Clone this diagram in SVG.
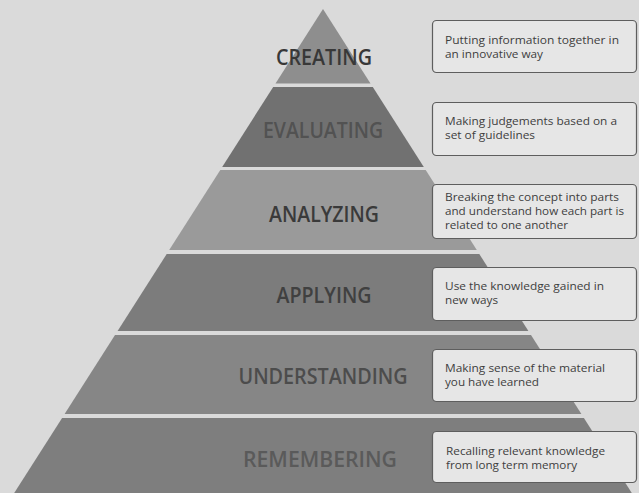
<svg xmlns="http://www.w3.org/2000/svg" width="639" height="493" viewBox="0 0 639 493">
<style>
.lbl{font-family:"Open Sans","Noto Sans",sans-serif;font-weight:600;font-size:21px;text-anchor:middle}
.box{fill:#e6e6e6;stroke:#5e5e5e;stroke-width:1.2}
.desc{font-family:"Open Sans","Noto Sans",sans-serif;font-size:11px;fill:#3e3e3e}
</style>
<rect x="0" y="0" width="639" height="493" fill="#dadada"/>
<g id="creating">
<polygon points="323,9 370.5,83.5 275.5,83.5" fill="#8e8e8e"/>
<text class="lbl" x="324" y="65" fill="#383838" textLength="96" lengthAdjust="spacingAndGlyphs">CREATING</text>
</g>
<g id="evaluating">
<polygon points="273.2,87 372.8,87 423.8,167 222.2,167" fill="#717171"/>
<text class="lbl" x="323" y="138" fill="#525252" textLength="120" lengthAdjust="spacingAndGlyphs">EVALUATING</text>
</g>
<g id="analyzing">
<polygon points="220.3,170 425.7,170 476.8,250 169.2,250" fill="#9a9a9a"/>
<text class="lbl" x="324" y="222" fill="#3a3a3a" textLength="110" lengthAdjust="spacingAndGlyphs">ANALYZING</text>
</g>
<g id="applying">
<polygon points="166.7,254 479.3,254 528.4,331 117.6,331" fill="#7c7c7c"/>
<text class="lbl" x="324" y="303" fill="#404040" textLength="95" lengthAdjust="spacingAndGlyphs">APPLYING</text>
</g>
<g id="understanding">
<polygon points="115,335 531,335 581.4,414 64.6,414" fill="#868686"/>
<text class="lbl" x="323" y="384" fill="#4c4c4c" textLength="169" lengthAdjust="spacingAndGlyphs">UNDERSTANDING</text>
</g>
<g id="remembering">
<polygon points="62.1,418 583.9,418 631.8,493 14.2,493" fill="#7e7e7e"/>
<text class="lbl" x="320" y="467" fill="#5a5a5a" textLength="154" lengthAdjust="spacingAndGlyphs">REMEMBERING</text>
</g>
<g id="connectors"></g>
<g id="desc-creating">
<rect class="box" x="432.5" y="20.5" width="204" height="52" rx="4"/>
<text class="desc" x="445" y="44" textLength="174" lengthAdjust="spacingAndGlyphs">Putting information together in</text>
<text class="desc" x="445" y="58" textLength="98" lengthAdjust="spacingAndGlyphs">an innovative way</text>
</g>
<g id="desc-evaluating">
<rect class="box" x="432.5" y="102.5" width="204" height="53" rx="4"/>
<text class="desc" x="445" y="125" textLength="172" lengthAdjust="spacingAndGlyphs">Making judgements based on a</text>
<text class="desc" x="445" y="139" textLength="90" lengthAdjust="spacingAndGlyphs">set of guidelines</text>
</g>
<g id="desc-analyzing">
<rect class="box" x="432.5" y="184.5" width="204" height="54" rx="4"/>
<text class="desc" x="445" y="201" textLength="174" lengthAdjust="spacingAndGlyphs">Breaking the concept into parts</text>
<text class="desc" x="445" y="215" textLength="179" lengthAdjust="spacingAndGlyphs">and understand how each part is</text>
<text class="desc" x="445" y="229" textLength="123" lengthAdjust="spacingAndGlyphs">related to one another</text>
</g>
<g id="desc-applying">
<rect class="box" x="432.5" y="267.5" width="204" height="53" rx="4"/>
<text class="desc" x="445" y="290" textLength="159" lengthAdjust="spacingAndGlyphs">Use the knowledge gained in</text>
<text class="desc" x="445" y="304" textLength="53" lengthAdjust="spacingAndGlyphs">new ways</text>
</g>
<g id="desc-understanding">
<rect class="box" x="432.5" y="349.5" width="204" height="52" rx="4"/>
<text class="desc" x="445" y="372" textLength="160" lengthAdjust="spacingAndGlyphs">Making sense of the material</text>
<text class="desc" x="445" y="386" textLength="94" lengthAdjust="spacingAndGlyphs">you have learned</text>
</g>
<g id="desc-remembering">
<rect class="box" x="432.5" y="431.5" width="204" height="51" rx="4"/>
<text class="desc" x="446" y="455" textLength="159" lengthAdjust="spacingAndGlyphs">Recalling relevant knowledge</text>
<text class="desc" x="446" y="469" textLength="131" lengthAdjust="spacingAndGlyphs">from long term memory</text>
</g>
</svg>
